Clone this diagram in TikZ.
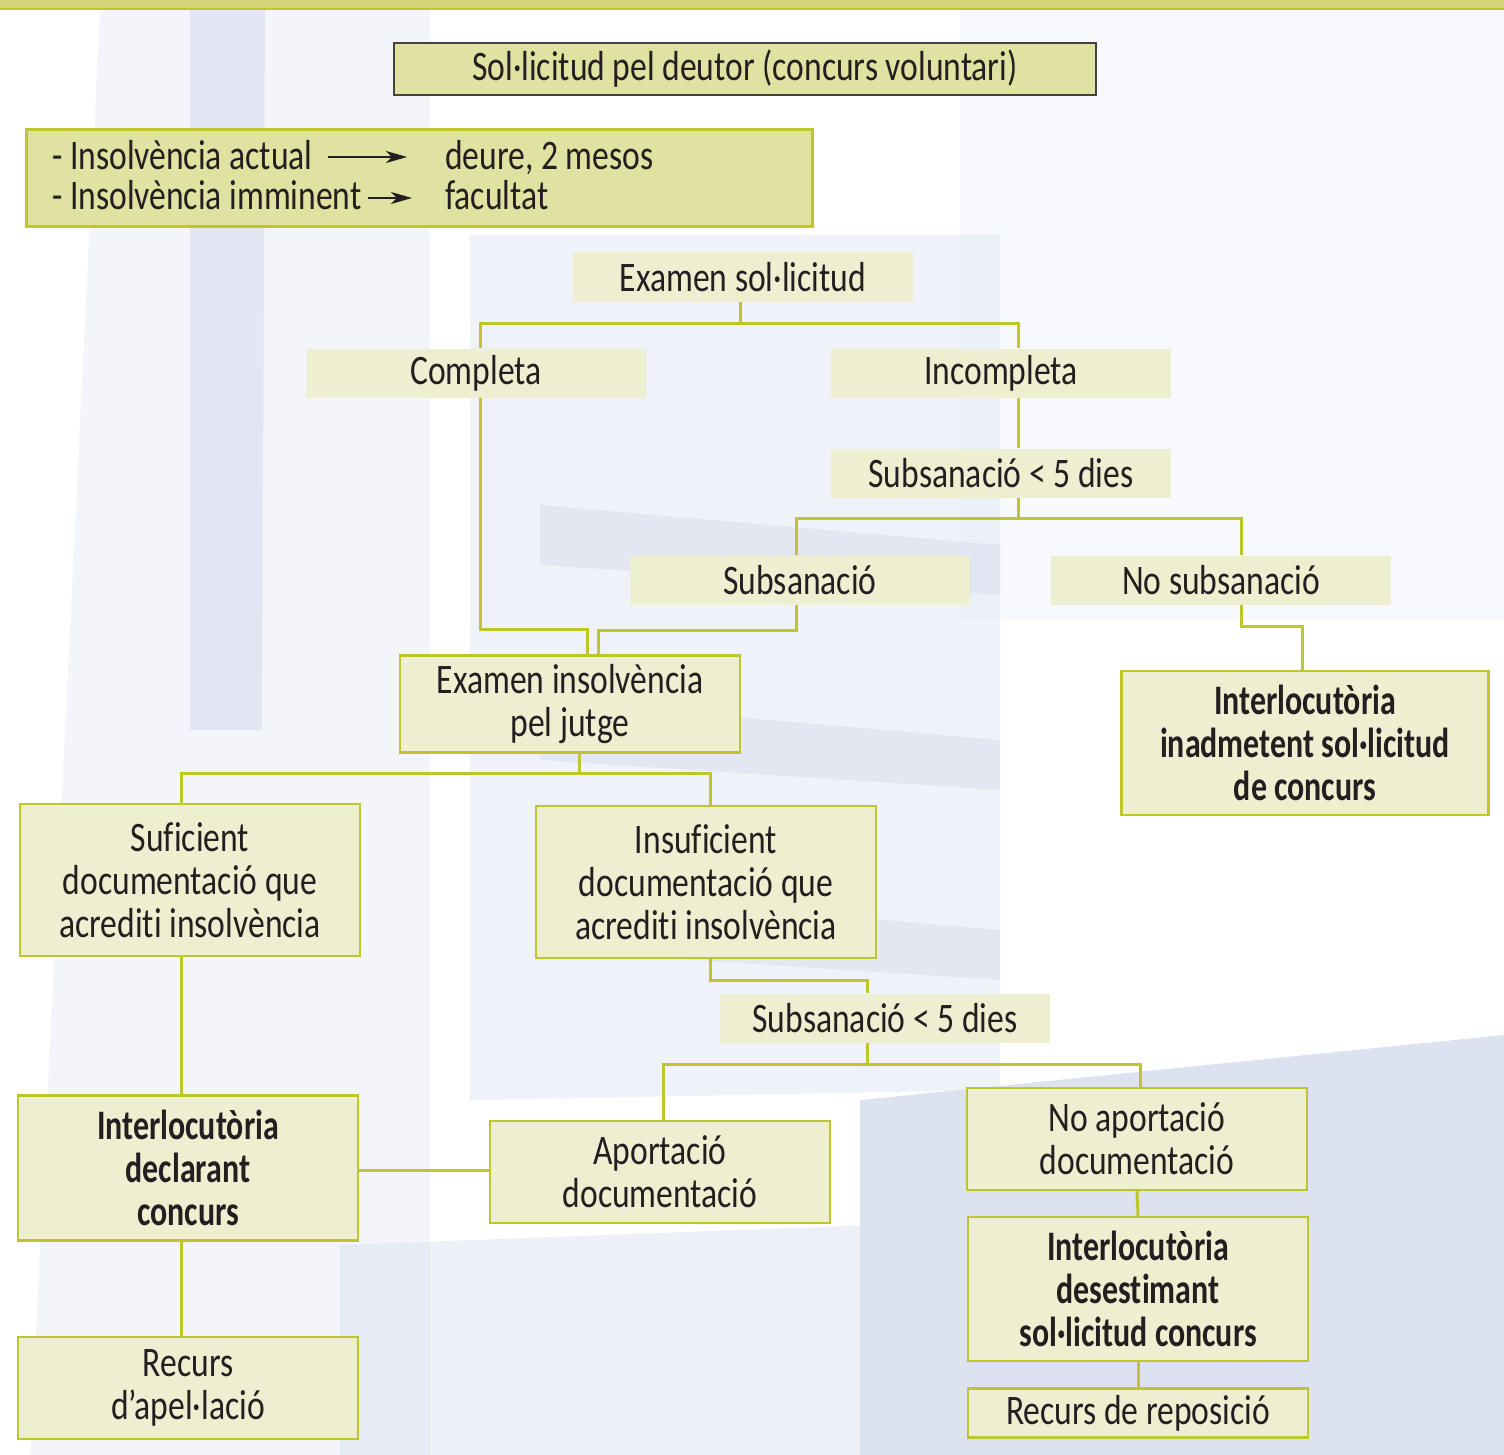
\documentclass[tikz,border=0pt]{standalone}
\usepackage{fontspec}
\setmainfont{Carlito}[FakeStretch=0.8,Ligatures=NoCommon,BoldFeatures={FakeStretch=0.76}]
\usepackage{tikz}
\usetikzlibrary{arrows.meta}
\usepackage{xcolor}
\definecolor{olivl}{RGB}{190,197,45}
\definecolor{boxlt}{RGB}{238,239,208}
\definecolor{boxdk}{RGB}{223,226,160}
\definecolor{topband}{RGB}{211,212,120}
\definecolor{bgblue}{RGB}{220,226,240}
\definecolor{ink}{RGB}{35,31,32}

\tikzset{
  txt/.style={font={\fontsize{42}{43}\selectfont},text=ink,inner sep=0pt},
  plainbox/.style={txt,fill=boxlt,minimum width=340pt,minimum height=49pt,align=center},
  framebox/.style={plainbox,draw=olivl,line width=2.5pt},
  link/.style={draw=olivl,line width=3pt},
  tip/.style={-{Stealth[length=21pt,width=12pt,inset=6pt]},line width=1.3pt,ink}
}

\begin{document}
\begin{tikzpicture}[x=1pt,y=-1pt]
  \useasboundingbox (0,0) rectangle (1504,1455);
  % background building
  \fill[bgblue,opacity=0.35] (100,10) -- (430,10) -- (430,1455) -- (30,1455) -- cycle;
  \fill[bgblue,opacity=0.8] (190,10) -- (265,10) -- (262,730) -- (190,730) -- cycle;
  \fill[bgblue,opacity=0.2] (960,10) -- (1504,10) -- (1504,620) -- (960,620) -- cycle;
  \fill[bgblue,opacity=0.45] (470,235) -- (1000,235) -- (1000,1090) -- (470,1100) -- cycle;
  \foreach \y in {505,700,890}{
    \fill[bgblue,opacity=0.7] (540,\y) -- (1000,\y+40) -- (1000,\y+90) -- (540,\y+60) -- cycle;
  }
  \fill[bgblue,opacity=0.5] (340,1245) -- (870,1225) -- (870,1455) -- (340,1455) -- cycle;
  \fill[bgblue] (860,1100) -- (1504,1035) -- (1504,1455) -- (860,1455) -- cycle;
  \fill[topband] (0,0) rectangle (1504,9);
  \draw[olivl,line width=2pt] (0,9) -- (1504,9);

  % header boxes
  \node[txt,fill=boxdk,draw=ink!85,line width=1.5pt,minimum width=702pt,minimum height=52pt]
    (solic) at (745,69) {Sol·licitud pel deutor (concurs voluntari)};
  \node[fill=boxdk,draw=olivl,line width=3pt,minimum width=786pt,minimum height=97pt,inner sep=0pt]
    (insolv) at (419,178.5) {};
  \node[txt,anchor=base west] (actual) at (52,170) {- Insolvència actual};
  \node[txt,anchor=base west] (immin) at (52,210) {- Insolvència imminent};
  \node[txt,anchor=base west] (deure) at (445,170) {deure, 2 mesos};
  \node[txt,anchor=base west] (facult) at (445,210) {facultat};
  \draw[tip] ([shift={(15pt,13pt)}]actual.base east) -- ([shift={(-38pt,13pt)}]deure.base west);
  \draw[tip] ([shift={(6pt,12pt)}]immin.base east) -- ([shift={(-33pt,12pt)}]facult.base west);

  % flow
  \node[plainbox] (exsol) at (743,277) {Examen sol·licitud};
  \node[plainbox] (compl) at (476,373) {Completa};
  \node[plainbox] (incompl) at (1001,373) {Incompleta};
  \node[plainbox] (subsa) at (1001,473) {Subsanació < 5 dies};
  \node[plainbox] (subs) at (800,580) {Subsanació};
  \node[plainbox] (nosubs) at (1221,580) {No subsanació};
  \node[framebox,minimum height=97pt] (exins) at (570,704) {Examen insolvència\\pel jutge};
  \node[framebox,minimum width=367pt,minimum height=144pt] (inadm) at (1305,743)
    {\bfseries Interlocutòria\\\bfseries inadmetent sol·licitud\\\bfseries de concurs};
  \node[framebox,minimum height=152pt] (sufic) at (190,880)
    {Suficient\\documentació que\\acrediti insolvència};
  \node[framebox,minimum height=152pt] (insuf) at (706,882)
    {Insuficient\\documentació que\\acrediti insolvència};
  \node[plainbox,minimum width=330pt] (subsb) at (885,1018) {Subsanació < 5 dies};
  \node[framebox,minimum height=145pt] (declar) at (188,1168)
    {\bfseries Interlocutòria\\\bfseries declarant\\\bfseries concurs};
  \node[framebox,minimum height=102pt] (aport) at (660,1172) {Aportació\\documentació};
  \node[framebox,minimum height=102pt] (noaport) at (1137,1139) {No aportació\\documentació};
  \node[framebox,minimum height=144pt] (desest) at (1138,1289)
    {\bfseries Interlocutòria\\\bfseries desestimant\\\bfseries sol·licitud concurs};
  \node[framebox,minimum height=102pt] (apel) at (188,1388) {Recurs\\d’apel·lació};
  \node[framebox] (repos) at (1138,1413) {Recurs de reposició};

  % connectors
  \draw[link] ([xshift=-3pt]exsol.south) -- ++(0,22) -| ([xshift=4pt]compl.north);
  \draw[link] ([xshift=-3pt]exsol.south) -- ++(0,22) -| ([xshift=17pt]incompl.north);
  \draw[link] ([xshift=17pt]incompl.south) -- ([xshift=17pt]subsa.north);
  \draw[link] ([xshift=17pt]subsa.south) -- ++(0,21) -| ([xshift=-4pt]subs.north);
  \draw[link] ([xshift=17pt]subsa.south) -- ++(0,21) -| ([xshift=20pt]nosubs.north);
  \draw[link] ([xshift=4pt]compl.south) -- ++(0,232) -| ([xshift=17pt]exins.north);
  \draw[link] ([xshift=-4pt]subs.south) -- ++(0,26) -| ([xshift=28pt]exins.north);
  \draw[link] ([xshift=20pt]nosubs.south) -- ++(0,22) -| ([xshift=-3pt]inadm.north);
  \draw[link] ([xshift=9pt]exins.south) -- ++(0,20) -| ([xshift=-9pt]sufic.north);
  \draw[link] ([xshift=9pt]exins.south) -- ++(0,20) -| ([xshift=4pt]insuf.north);
  \draw[link] ([xshift=-9pt]sufic.south) -- ([xshift=-9pt]sufic.south |- declar.north);
  \draw[link] ([xshift=4pt]insuf.south) -- ++(0,21) -| ([xshift=-18pt]subsb.north);
  \draw[link] ([xshift=-18pt]subsb.south) -- ++(0,22) -| ([xshift=3pt]aport.north);
  \draw[link] ([xshift=-18pt]subsb.south) -- ++(0,22) -| ([xshift=3pt]noaport.north);
  \draw[link] ([yshift=2pt]aport.west) -- ([yshift=2pt]aport.west -| declar.east);
  \draw[link] ([xshift=-7pt]declar.south) -- ([xshift=-7pt]apel.north);
  \draw[link] (noaport.south) -- (desest.north);
  \draw[link] (desest.south) -- (repos.north);
\end{tikzpicture}
\end{document}
